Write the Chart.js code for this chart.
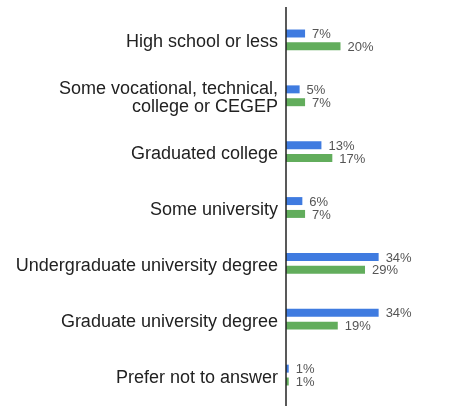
<!DOCTYPE html>
<html>
<head>
<meta charset="utf-8">
<script src="https://cdn.jsdelivr.net/npm/chart.js@4/dist/chart.umd.min.js"></script>
<style>
  html, body { margin: 0; padding: 0; background: #fff; }
  #wrap { width: 474px; height: 406px; }
</style>
</head>
<body>
<div id="wrap"><canvas id="myChart"></canvas></div>
<script>
const categories = [
  "High school or less",
  ["Some vocational, technical,", "college or CEGEP"],
  "Graduated college",
  "Some university",
  "Undergraduate university degree",
  "Graduate university degree",
  "Prefer not to answer",
];
const blueValues = [7, 5, 13, 6, 34, 34, 1];
const greenValues = [20, 7, 17, 7, 29, 19, 1];

// category names, "n%" after each bar and the vertical axis line
const barLabels = {
  id: "barLabels",
  afterDatasetsDraw(chart) {
    const ctx = chart.ctx;
    const yScale = chart.scales.y;
    const left = chart.chartArea.left;
    ctx.save();

    ctx.font = "18px 'Liberation Sans', Arial, sans-serif";
    ctx.fillStyle = "#222";
    ctx.textAlign = "right";
    ctx.textBaseline = "middle";
    chart.data.labels.forEach((lbl, i) => {
      const lines = Array.isArray(lbl) ? lbl : [lbl];
      const y0 = yScale.getPixelForTick(i) + 2.5 - (lines.length - 1) * 9;
      lines.forEach((line, k) => ctx.fillText(line, left - 8, y0 + k * 18));
    });

    ctx.font = "13px 'Liberation Sans', Arial, sans-serif";
    ctx.fillStyle = "#555";
    ctx.textAlign = "left";
    chart.data.datasets.forEach((ds, i) => {
      chart.getDatasetMeta(i).data.forEach((bar, j) => {
        ctx.fillText(ds.data[j] + "%", bar.x + 7, bar.y + 1);
      });
    });

    ctx.strokeStyle = "#222";
    ctx.lineWidth = 1.5;
    ctx.beginPath();
    ctx.moveTo(left, 7);
    ctx.lineTo(left, chart.height);
    ctx.stroke();
    ctx.restore();
  },
};

const ctx = document.getElementById("myChart").getContext("2d");

new Chart(ctx, {
  type: "bar",
  data: {
    labels: categories,
    datasets: [
      {
        label: "A",
        backgroundColor: "#3f7be0",
        data: blueValues,
        barPercentage: 0.62,
        categoryPercentage: 0.46,
      },
      {
        label: "B",
        backgroundColor: "#62ad5c",
        data: greenValues,
        barPercentage: 0.62,
        categoryPercentage: 0.46,
      },
    ],
  },
  options: {
    indexAxis: "y",
    animation: false,
    responsive: true,
    maintainAspectRatio: false,
    layout: { padding: { top: 12, bottom: 3, right: 0, left: 0 } },
    plugins: {
      legend: { display: false },
      tooltip: { enabled: false },
    },
    scales: {
      x: {
        min: 0,
        max: 69,
        display: false,
      },
      y: {
        afterFit(scale) {
          scale.width = 286;
          scale.paddingTop = 0;
          scale.paddingBottom = 0;
        },
        grid: { display: false, drawTicks: false },
        border: { display: false },
        ticks: { display: false },
      },
    },
  },
  plugins: [barLabels],
});
</script>
</body>
</html>
